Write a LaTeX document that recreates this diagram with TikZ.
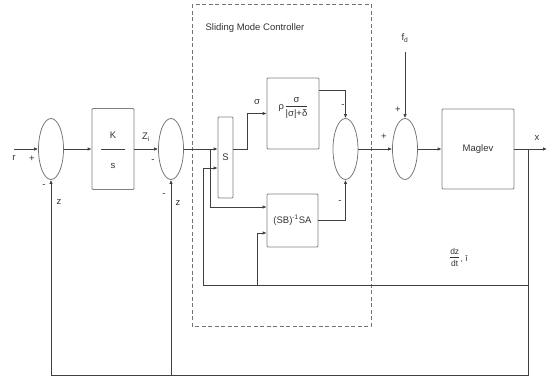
\documentclass[tikz,border=0pt]{standalone}
\usepackage{fontspec}
\setmainfont{Liberation Sans}
\usetikzlibrary{positioning}
\usetikzlibrary{shapes,arrows.meta}
\usetikzlibrary{calc}

\begin{document}
\begin{tikzpicture}[x=1pt,y=-1pt,
  font=\fontsize{9.5}{11}\selectfont, text=black!80,
  sumnode/.style={ellipse,draw=black!55,line width=0.75pt,minimum width=25pt,minimum height=61pt,inner sep=0pt},
  blk/.style={draw=black!50,line width=0.75pt,rounded corners=1pt,inner sep=0pt},
  sig/.style={draw=black!75,line width=0.75pt,-{Latex[length=4pt,width=3.5pt]}},
  wire/.style={draw=black!75,line width=0.75pt}]
  \useasboundingbox (0,0) rectangle (547,378);
  % summing junctions
  \node[sumnode] (sumA) at (51,149) {};
  \node[sumnode] (sumB) at (171,149) {};
  \node[sumnode] (sumC) at (345.5,149) {};
  \node[sumnode] (sumD) at (405,149) {};
  % blocks
  \node[blk,minimum width=42pt,minimum height=81pt] (ks) at (113,149) {};
  \node (ksK) at (113,135) {K};
  \node (kss) at (113,166) {s};
  \draw[black!75,line width=0.6pt] (101,149) -- (125,149);
  \node[blk,minimum width=15pt,minimum height=81pt] (slide) at (225.5,157.5) {S};
  \node[blk,minimum width=52pt,minimum height=71pt] (rho) at (293,113.5) {};
  \node (rhotxt) at (293,107) {ρ\,\begin{tabular}{@{}c@{}}σ\\\hline\rule{0pt}{10pt}|σ|+δ\end{tabular}};
  \node[blk,minimum width=51pt,minimum height=53pt] (sbsa) at (292.5,220.5) {(SB)\textsuperscript{-1}SA};
  \node[blk,minimum width=72pt,minimum height=80pt] (maglev) at (478,149) {Maglev};
  % controller frame
  \draw[black!55,line width=0.6pt,dash pattern=on 4pt off 2.5pt] (192,4) rectangle (371,326);
  \node (smc) at (255,28) {Sliding Mode Controller};
  % points
  \coordinate (rin) at (14,149);
  \coordinate (brA) at (210,149);
  \coordinate (fbA) at (203,285);
  \coordinate (fbB) at (257,285);
  \coordinate (fd) at (405,52);
  \coordinate (jx) at (528,149);
  \coordinate (xout) at (547,149);
  % forward path
  \draw[sig] (rin) -- (sumA.west);
  \draw[sig] (sumA.east) -- (ks.west);
  \draw[sig] (ks.east) -- (sumB.west);
  \draw[sig] (sumB.east) -- (sumB.east -| slide.west);
  \draw[sig] (brA) |- ([yshift=13.5pt]sbsa.west);
  \draw[sig] (slide.east |- sumB.east) -- ++(14,0) |- (rho.west);
  \draw[sig] ([yshift=23.5pt]rho.east) -| (sumC.north);
  \draw[sig] (sbsa.east) -| (sumC.south);
  \draw[sig] (sumC.east) -- (sumD.west);
  \draw[sig] (fd) -- (sumD.north);
  \draw[sig] (sumD.east) -- (maglev.west);
  \draw[sig] (maglev.east) -- (xout);
  % feedback
  \draw[sig] (jx) -- (jx |- 0,375) -| (sumA.south);
  \draw[sig] (sumB.south |- 0,375) -- (sumB.south);
  \draw[wire] (jx |- fbA) -- (fbA);
  \draw[sig] (fbA) |- ([yshift=-10.5pt]slide.west);
  \draw[sig] (fbB) |- ([yshift=-12.5pt]sbsa.west);
  % signs and labels
  \node (lr) at (14,158) {r};
  \node (pA) at (32,159) {+};
  \node (mA) at (44,186) {-};
  \node (zA) at (59,202) {z};
  \node (lzi) at (146,137) {Z\textsubscript{i}};
  \node (mB1) at (153,161) {-};
  \node (mB2) at (164,195) {-};
  \node (zB) at (178,203) {z};
  \node (lsig) at (257,102) {σ};
  \node (mC1) at (343,106) {-};
  \node (mC2) at (340,202) {-};
  \node (pD1) at (384,137) {+};
  \node (pD2) at (398,110) {+};
  \node (lfd) at (405,38) {f\textsubscript{d}};
  \node (lx) at (537,138) {x};
  \node[font=\fontsize{8.5}{9}\selectfont] (ldz) at (459,259) {\begin{tabular}{@{}c@{}}dz\\\hline\rule{0pt}{9pt}dt\end{tabular}\,, \={\i}};
\end{tikzpicture}
\end{document}
